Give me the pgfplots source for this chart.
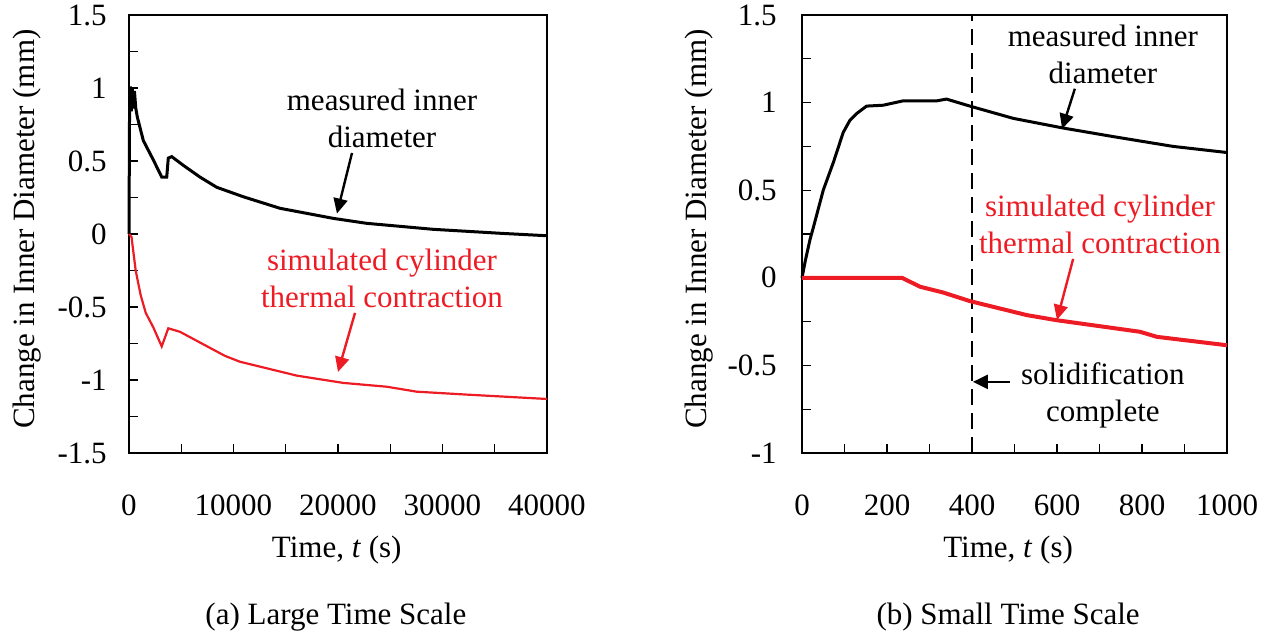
\documentclass[border=0pt]{standalone}
\usepackage{fontspec}
\setmainfont{Liberation Serif}
\usepackage{pgfplots}
\pgfplotsset{compat=1.18}
\usetikzlibrary{arrows.meta}
\definecolor{simred}{RGB}{237,28,36}
\tikzset{myarrow/.style={-{Triangle[length=7.5pt,width=7pt]}, line width=1.2pt}}
\pgfplotsset{
  myaxis/.style={
    scale only axis, height=219pt,
    anchor=south west,
    axis line style={line width=1pt},
    tick pos=left, tick align=inside,
    major tick length=4.5pt, minor tick length=4.5pt,
    every tick/.style={black, line width=0.6pt},
    /pgf/number format/assume math mode=true,
    /pgf/number format/1000 sep={},
    scaled x ticks=false, scaled y ticks=false,
    xticklabel style={anchor=center, yshift=-26pt},
    clip=false,
  },
}
\begin{document}
\fontsize{15.5pt}{18.5pt}\selectfont
\begin{tikzpicture}
\useasboundingbox (0,0) rectangle (637pt,318pt);
% ---------------- left panel ----------------
\begin{axis}[myaxis,
  at={(64.5pt,91.5pt)}, width=209pt,
  xmin=0, xmax=40000, ymin=-1.5, ymax=1.5,
  xtick={0,10000,20000,30000,40000},
  minor xtick={5000,15000,25000,35000},
  ytick={-1.5,-1,-0.5,0,0.5,1,1.5},
  minor ytick={-1.25,-0.75,-0.25,0.25,0.75,1.25},
  yticklabel style={anchor=east, inner sep=0pt, xshift=-11pt},
  xlabel={Time, \textit{t} (s)},
  xlabel style={at={(axis description cs:0.497,-0.2215)}, anchor=center},
  ylabel={Change in Inner Diameter (mm)},
  ylabel style={at={(axis description cs:-0.244,0.511)}, anchor=center},
]
\addplot[black, line width=1.5pt] coordinates {
(0,0) (30,0.5) (60,0.95) (120,1.01) (220,0.84) (320,1.0) (420,0.86) (520,0.98) (650,0.86) (800,0.80)
(1370,0.64) (2330,0.507) (3130,0.39) (3610,0.39) (3760,0.52) (4090,0.53) (5200,0.47)
(6790,0.39) (8390,0.32) (10940,0.255) (14450,0.176) (19550,0.107) (22750,0.073)
(29120,0.032) (35500,0.005) (40000,-0.012)};
\addplot[simred, line width=1.1pt] coordinates {
(0,0) (240,-0.02) (640,-0.25) (1120,-0.42) (1600,-0.54) (2330,-0.64) (3130,-0.77)
(3760,-0.646) (4880,-0.67) (7750,-0.78) (9190,-0.835) (10620,-0.875) (16050,-0.97)
(20510,-1.02) (24660,-1.046) (27530,-1.08) (32310,-1.10) (40000,-1.13)};
\node[align=center] at (axis cs:24210,0.79) {measured inner\\diameter};
\node[align=center, text=simred] at (axis cs:24210,-0.305) {simulated cylinder\\thermal contraction};
\draw[myarrow, black] (axis cs:21340,0.555) -- (axis cs:19900,0.14);
\draw[myarrow, simred] (axis cs:21630,-0.54) -- (axis cs:20000,-0.945);
\node at (axis description cs:0.495,-0.374) {(a) Large Time Scale};
\end{axis}
% ---------------- right panel ----------------
\begin{axis}[myaxis,
  at={(401pt,91.5pt)}, width=212.5pt,
  xmin=0, xmax=1000, ymin=-1, ymax=1.5,
  xtick={0,200,400,600,800,1000},
  minor xtick={100,300,500,700,900},
  ytick={-1,-0.5,0,0.5,1,1.5},
  minor ytick={-0.75,-0.25,0.25,0.75,1.25},
  yticklabel style={anchor=east, inner sep=0pt, xshift=-12.5pt},
  xlabel={Time, \textit{t} (s)},
  xlabel style={at={(axis description cs:0.485,-0.2215)}, anchor=center},
  ylabel={Change in Inner Diameter (mm)},
  ylabel style={at={(axis description cs:-0.242,0.511)}, anchor=center},
]
\addplot[black, line width=1pt, dash pattern=on 8pt off 4pt] coordinates {(400,-1) (400,1.5)};
\addplot[black, line width=1.5pt] coordinates {
(0,0) (8,0.1) (19,0.22) (27,0.29) (50,0.50) (74,0.66) (97,0.83) (113,0.90) (130,0.94)
(152,0.98) (191,0.985) (238,1.01) (280,1.01) (317,1.01) (340,1.02) (395,0.98)
(497,0.91) (614,0.855) (732,0.806) (873,0.75) (1000,0.715)};
\addplot[simred, line width=2pt] coordinates {
(0,0) (235,0) (278,-0.051) (332,-0.084) (395,-0.133) (529,-0.213) (599,-0.242)
(795,-0.308) (835,-0.337) (1000,-0.385)};
\node[align=center] at (axis cs:708,1.276) {measured inner\\diameter};
\node[align=center, text=simred] at (axis cs:701,0.305) {simulated cylinder\\thermal contraction};
\node[align=center] at (axis cs:708,-0.673) {solidification\\complete};
\draw[myarrow, black] (axis cs:642,1.079) -- (axis cs:612,0.85);
\draw[myarrow, simred] (axis cs:638,0.108) -- (axis cs:600,-0.24);
\draw[myarrow, black] (axis cs:489,-0.594) -- (axis cs:402,-0.594);
\node at (axis description cs:0.485,-0.374) {(b) Small Time Scale};
\end{axis}
\end{tikzpicture}
\end{document}
